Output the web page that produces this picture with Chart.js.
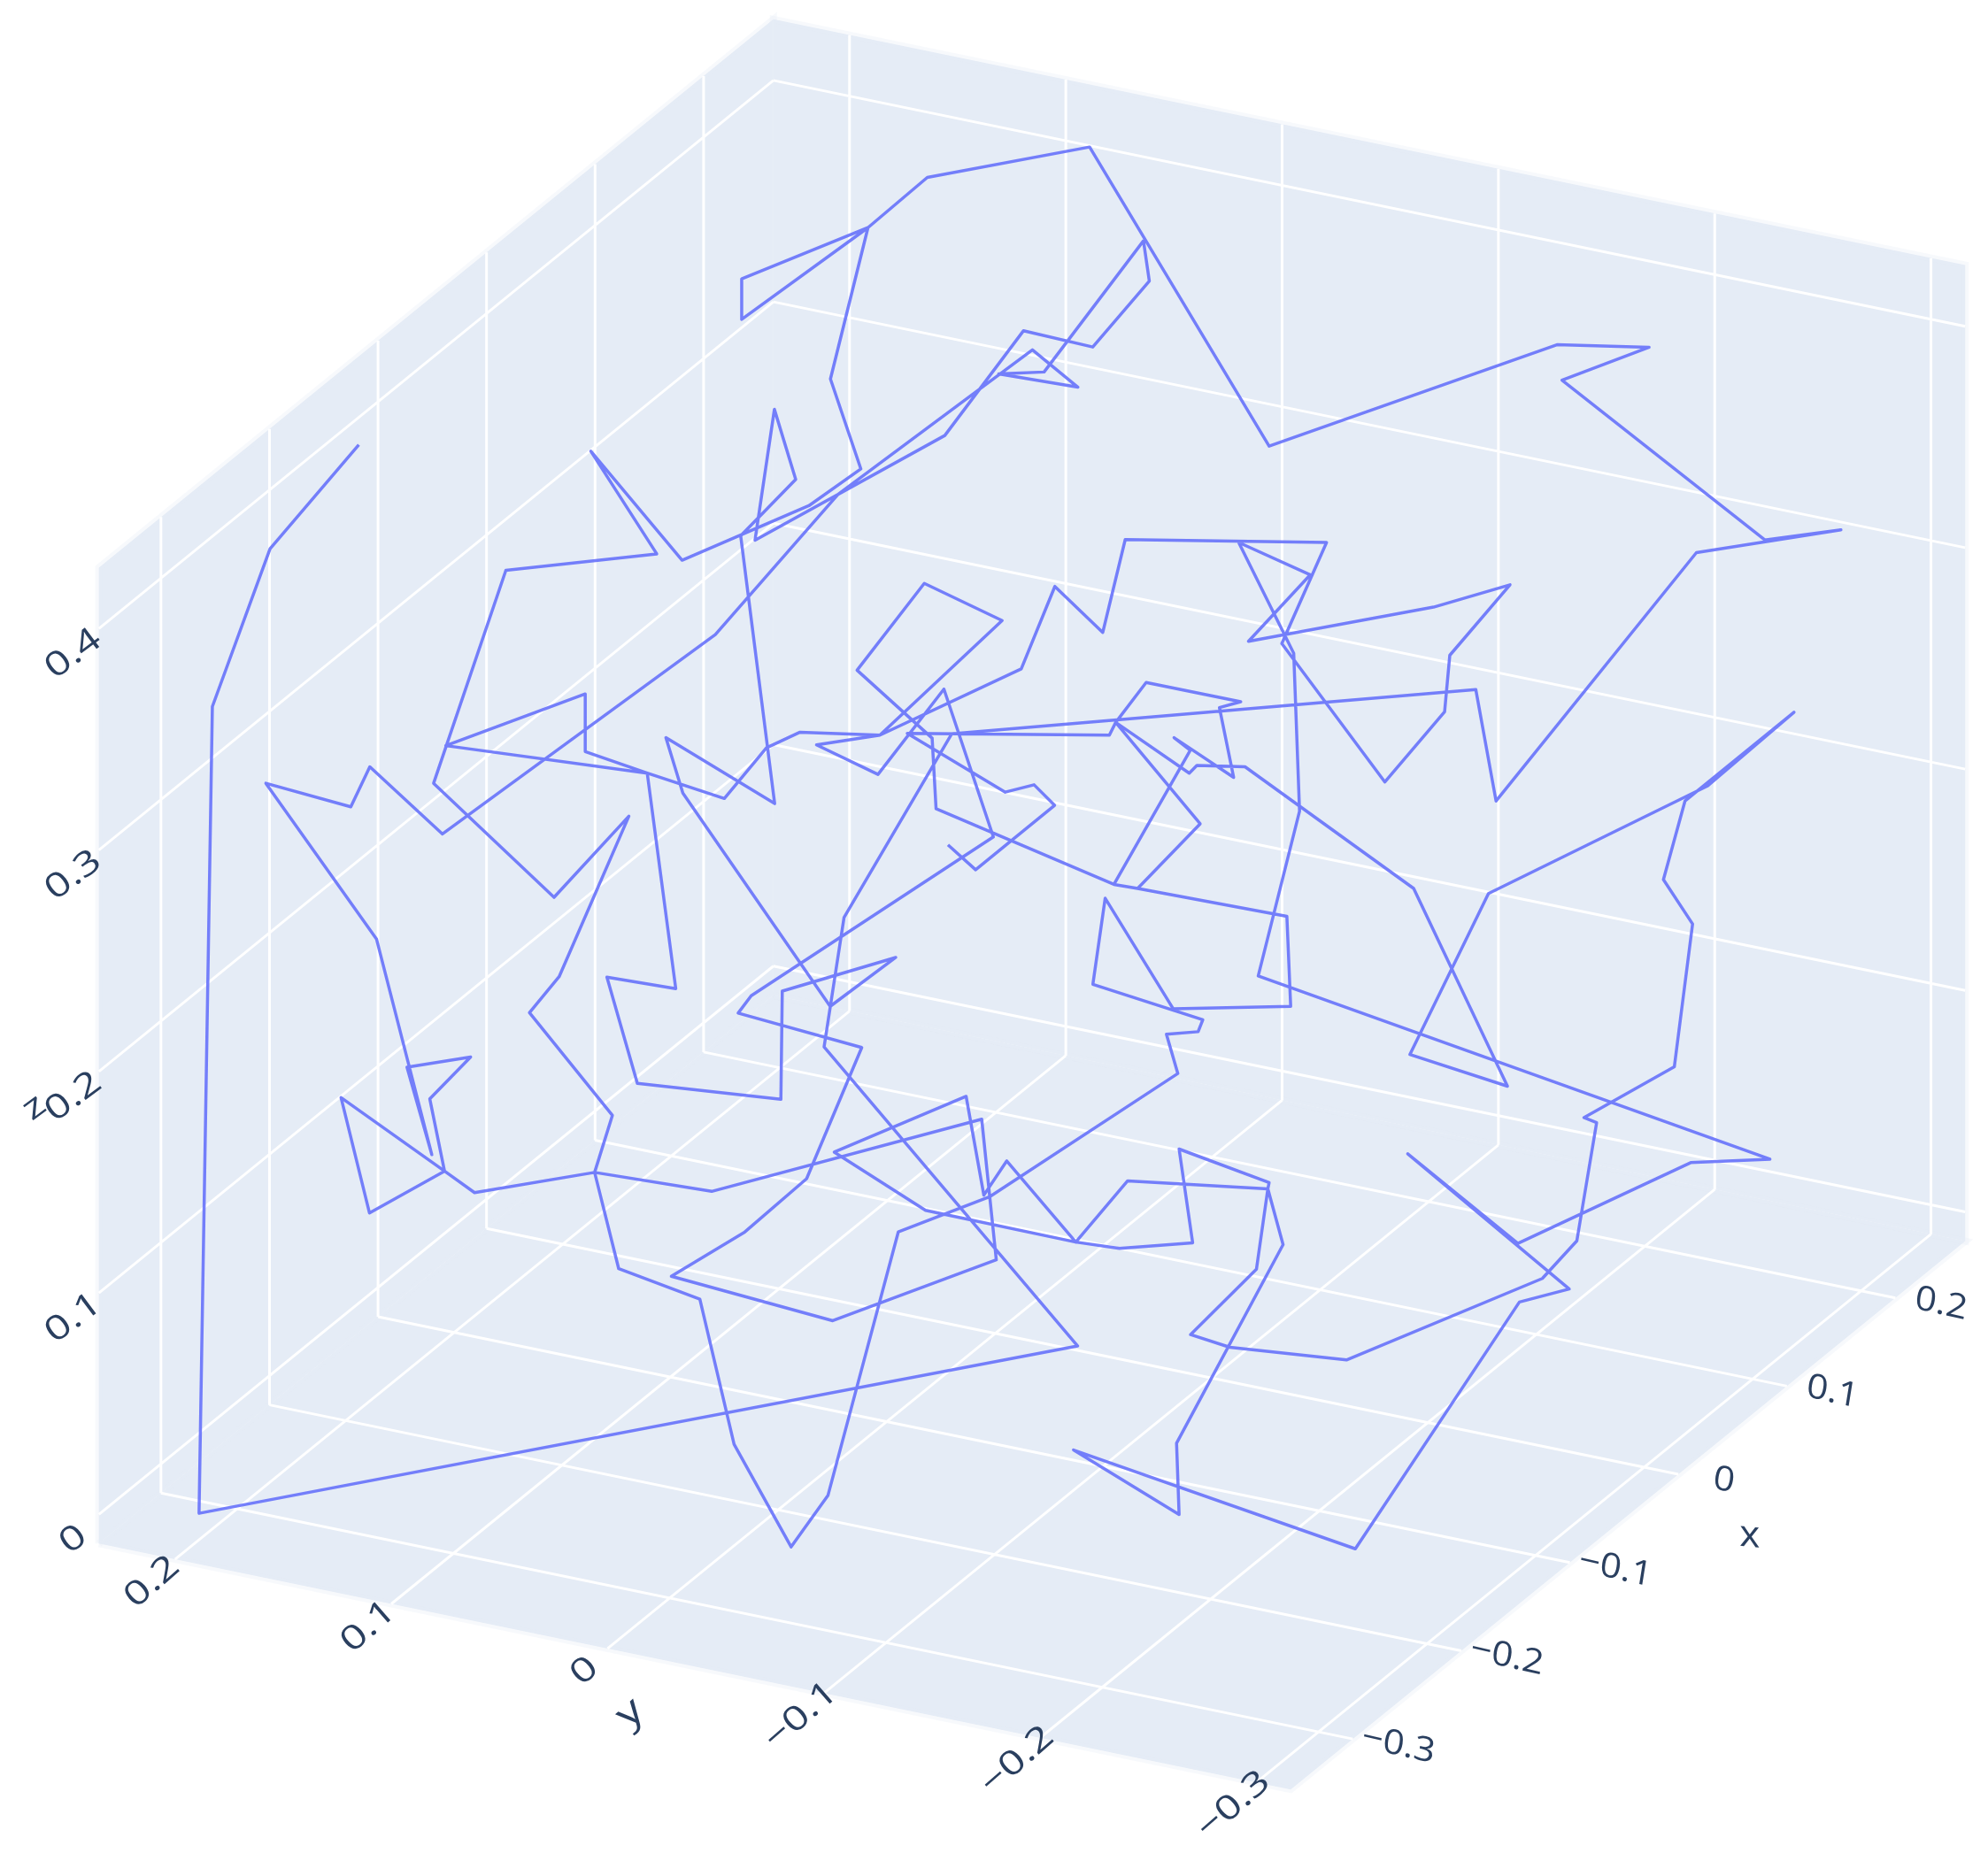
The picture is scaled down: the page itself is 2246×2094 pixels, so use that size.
<!DOCTYPE html>
<html>
<head>
<meta charset="utf-8">
<style>html,body{margin:0;padding:0;background:#fff}canvas{display:block}</style>
<script src="https://cdn.jsdelivr.net/npm/chart.js@4"></script>
</head>
<body>
<canvas id="c" width="2246" height="2094"></canvas>
<script>
// Tick values of the three scene axes
const xTicks = [-0.3, -0.2, -0.1, 0, 0.1, 0.2];
const yTicks = [0.2, 0.1, 0, -0.1, -0.2, -0.3];
const zTicks = [0, 0.1, 0.2, 0.3, 0.4];
const xTickLabels = ['\u22120.3', '\u22120.2', '\u22120.1', '0', '0.1', '0.2'];
const yTickLabels = ['0.2', '0.1', '0', '\u22120.1', '\u22120.2', '\u22120.3'];
const zTickLabels = ['0', '0.1', '0.2', '0.3', '0.4'];
// Scene ranges
const xRange = [-0.3572, 0.2643];
const yRange = [-0.3158, 0.2352];
const zRange = [-0.0132, 0.4276];
// Trace, in projected view units
const traceX = [283,213,167.5,157,850,650,665.7,750.6,1164,1180,1338,1452,1392,1232,1300.7,1228,1001,859.4,731.4,684.6,585,585,684.6,655,679,638,538,466,518,399,342,437,496,441,417.6,483,469,488,552,579,624,653,708.5,781,929,920,945,948.7,862,871.7,925.4,1018,1015,897.3,878.6,897.3,946.6,880,938,944,982,1115,1189,1112,1174,1347,1415,1329,1312,1335,1320.6,1249.3,1259.3,1243.7,1216.5,1062,970,939,991,1000,889.4,848.5,794,776,762,658,730,848.5,883,940.7,930,1001,1000,1012,928,930,846.7,1069,1198.4,1237.7,1110.3,1197.2,1333.5,1396,992.4,1025,1020.4,977,1033.5,984.7,1130.7,1191,1143.5,1139.4,1092.3,1011,1046.3,887.5,869.8,832,805.5,694,631,604.5,571.3,510.5,461.6,461.6,351.6,510.5,533,478.7,502.7,615.9,617,706.5,654.8,538.6,525.2,611,584.2,627.6,610.8,595.5,745.2,807.2,861.9,906.5,901.9,823.5,787.7,850.2,814.3,661,564.2,349,291.7,276.7,209.7,297,340.6,321,371.2,339,350.6,269,291.4,350.6,374.3,469,561.3,774.3,785.8,656.8,529.5,587.5,636.2,679.7,582.2,592.5,783.5,744.5,692.5,644,694,790.4,729,676,735.2,738.3,878.6,938.8,926,973,961.8,978.6,904,880,875,715.6,792.9,815.6,831.8,769.5,747.7];
const traceY = [351,433,557.5,1194,1062,826,724,579,544,632,436,418,426,300,274,272,352,116,140,179.6,252,220,179.6,299,370,399,442,356,437,450,618,708,644,770.6,799,880,925,1001,1025,1139.5,1220.5,1180,972,944,847,816,814,804.6,776.6,708.7,796,794,723,701,697.8,701,650,570,610,604,605,701,857,832,705,620,562,632,694,729,841.7,881.8,885.8,979,1008.7,1073,1063,1053,1001.4,938,931.7,980,916,943,865,909,955,980,985,980.6,906.6,933,938,982,1138.7,1195,1144,1222,1027.3,1017,910.4,981,917.3,914.6,770,640,515.4,428,453.5,506,479,461.4,517,561.6,617,507.8,428,425.7,499,462.7,527.7,580,577.7,590,630,610,593,547.5,588.3,610,780,771,854.8,867.4,782,755.4,794,625.7,582,634,422.8,378.2,323,426.2,343.6,261,273.8,221.7,190,293.5,295,305.5,276,390,500.7,658,605,636.6,618,741,911,842,834,867,924,866,957,924,941,925,940,883,994,1042,1007,972,930,826.5,799.3,785.6,660.3,543.7,611,587.7,580,489.6,460.3,528.8,582.4,638,697.8,592,582,613.3,558.3,553.7,538.5,570,580,578.7,625,619.2,635.4,686.2,666.6];

// Orthographic view of the scene, in projected view units
const VIEW_W = 1568, VIEW_H = 1462;
const view = {ox:785, oy:1029, xx:856, xy:-696, yx:-1706, yy:-352, zy:-1747};
function project(x, y, z) {
  return {x: view.ox + x*view.xx + y*view.yx, y: view.oy + x*view.xy + y*view.yy + z*view.zy};
}
const [x0,x1] = xRange, [y0,y1] = yRange, [z0,z1] = zRange;
const GAP = {x:NaN, y:NaN};

function segments(list) {
  const out = [];
  list.forEach(s => { out.push(project(...s[0]), project(...s[1]), GAP); });
  return out;
}
const gridSegs = [];
xTicks.forEach(v => {
  gridSegs.push([[v,y1,z0],[v,y0,z0]]);   // floor
  gridSegs.push([[v,y1,z0],[v,y1,z1]]);   // left wall
});
yTicks.forEach(v => {
  gridSegs.push([[x0,v,z0],[x1,v,z0]]);   // floor
  gridSegs.push([[x1,v,z0],[x1,v,z1]]);   // back wall
});
zTicks.forEach(v => {
  gridSegs.push([[x0,y1,v],[x1,y1,v]]);   // left wall
  gridSegs.push([[x1,y1,v],[x1,y0,v]]);   // back wall
});

function pane(corners) {
  return {
    data: corners.concat([corners[0]]).map(c => project(...c)),
    showLine: true, fill: 'shape', backgroundColor: '#E5ECF6',
    borderColor: 'rgba(229,236,246,0.3)', borderWidth: 8, pointRadius: 0, order: 3, clip: false
  };
}

const labelFont = '38px "Open Sans"';
const titleFont = '42px "Open Sans"';
const INK = '#2a3f5f';
// a,b = baseline direction; c,d = glyph down direction
const zForm = [Math.cos(-0.64)*1.28, Math.sin(-0.64)*1.28, Math.sin(0.64), Math.cos(0.64)];
const yForm = [Math.cos(-0.72)*1.28, Math.sin(-0.72)*1.28, Math.sin(0.72), Math.cos(0.72)];
const xForm = [Math.cos(0.22)*1.12, Math.sin(0.22)*1.12, -0.16, 1];
const xTitleForm = [1.05, 0.1, 0, 1];

const axisText = {
  id: 'axisText',
  afterDraw(chart) {
    const {ctx, scales} = chart;
    const put = (txt, vx, vy, f, font) => {
      ctx.save();
      ctx.translate(scales.x.getPixelForValue(vx), scales.y.getPixelForValue(vy));
      ctx.transform(f[0], f[1], f[2], f[3], 0, 0);
      ctx.font = font; ctx.fillStyle = INK;
      ctx.textAlign = 'center'; ctx.textBaseline = 'middle';
      ctx.fillText(txt, 0, 0);
      ctx.restore();
    };
    zTicks.forEach((v,i) => { const p = project(x0,y1,v); put(zTickLabels[i], p.x-20, p.y+20, zForm, labelFont); });
    yTicks.forEach((v,i) => { const p = project(x0,v,z0); put(yTickLabels[i], p.x-18, p.y+18, yForm, labelFont); });
    xTicks.forEach((v,i) => { const p = project(v,y0,z0); put(xTickLabels[i], p.x+36, p.y+5, xForm, labelFont); });
    put('x', 1380, 1212, xTitleForm, titleFont);
    put('y', 497, 1352, yForm, titleFont);
    put('z', 27, 874, zForm, labelFont);
  }
};

new Chart(document.getElementById('c'), {
  type: 'scatter',
  data: { datasets: [
    { data: traceX.map((x,i) => ({x, y: traceY[i]})), showLine: true, borderColor: 'rgba(99,110,250,0.88)',
      borderWidth: 3.5, pointRadius: 0, tension: 0, borderJoinStyle: 'round', order: 1, clip: false },
    { data: segments(gridSegs), showLine: true, borderColor: '#ffffff', borderWidth: 3,
      pointRadius: 0, spanGaps: false, order: 2, clip: false },
    pane([[x0,y1,z0],[x1,y1,z0],[x1,y1,z1],[x0,y1,z1]]),
    pane([[x1,y1,z0],[x1,y0,z0],[x1,y0,z1],[x1,y1,z1]]),
    pane([[x0,y1,z0],[x1,y1,z0],[x1,y0,z0],[x0,y0,z0]])
  ]},
  options: {
    responsive: false, animation: false, maintainAspectRatio: false,
    layout: {padding: 0},
    plugins: {legend: {display: false}, tooltip: {enabled: false}, title: {display: false}},
    scales: {
      x: {type: 'linear', min: 0, max: VIEW_W, display: false},
      y: {type: 'linear', min: 0, max: VIEW_H, reverse: true, display: false}
    }
  },
  plugins: [axisText]
});
</script>
</body>
</html>
